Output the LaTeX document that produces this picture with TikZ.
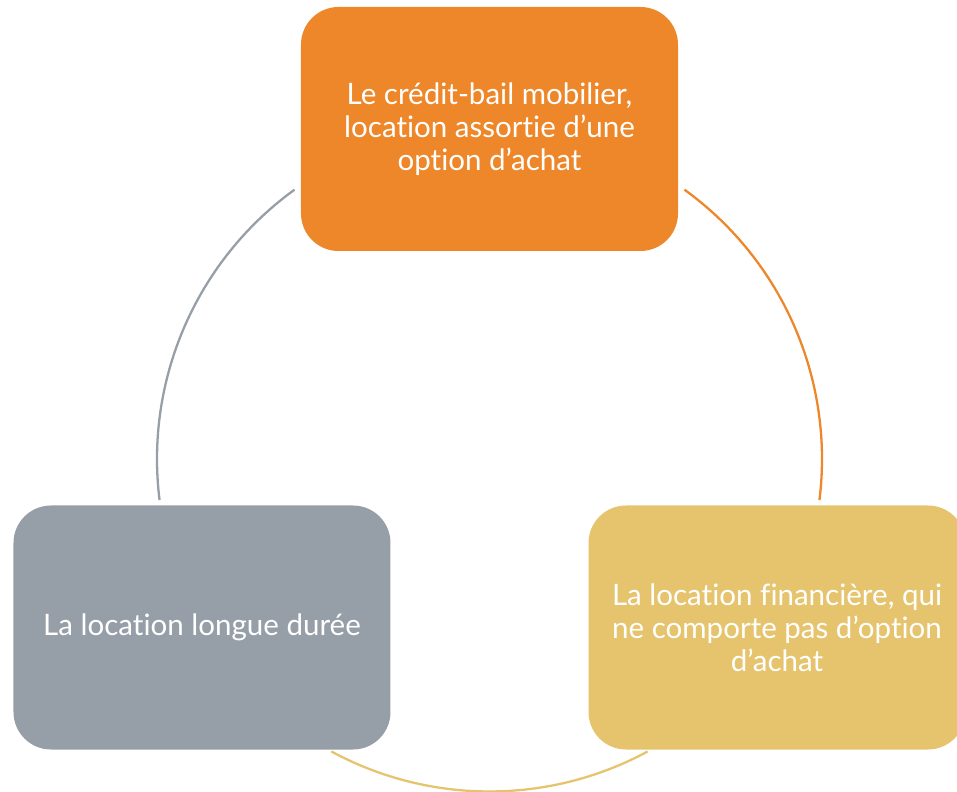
\documentclass[tikz,border=0pt]{standalone}
\usepackage{fontspec}
\setmainfont{Lato}[Ligatures={TeX,NoCommon}]
\definecolor{orangebox}{HTML}{ED8729}
\definecolor{graybox}{HTML}{969EA7}
\definecolor{yellowbox}{HTML}{E5C46D}

\begin{document}
\begin{tikzpicture}[
  box/.style={rounded corners=0.75cm, minimum width=7.54cm, minimum height=4.88cm,
    text=white, align=center, font=\fontsize{16.8}{18.8}\selectfont},
  link/.style={line width=1.3pt}]
\useasboundingbox (-9.79,9.18) rectangle (9.35,-6.64);
% arcs of the cycle, radius 6.65 round the origin
\coordinate (gs) at (187.1:6.65);
\draw[link,graybox] (gs) arc[start angle=187.1,end angle=125.9,radius=6.65];
\coordinate (os) at (54.1:6.65);
\draw[link,orangebox] (os) arc[start angle=54.1,end angle=-7.1,radius=6.65];
\coordinate (ys) at (-61.6:6.65);
\draw[link,yellowbox] (ys) arc[start angle=-61.6,end angle=-118.4,radius=6.65];
% the three boxes
\node[box,fill=orangebox] (credit) at (0,6.6) {Le crédit-bail mobilier,\\location assortie d’une\\option d’achat};
\node[box,fill=graybox] (longue) at (-5.75,-3.37) {La location longue durée};
\node[box,fill=yellowbox] (financiere) at (5.75,-3.37) {La location financière, qui\\ne comporte pas d’option\\d’achat};
\end{tikzpicture}
\end{document}
